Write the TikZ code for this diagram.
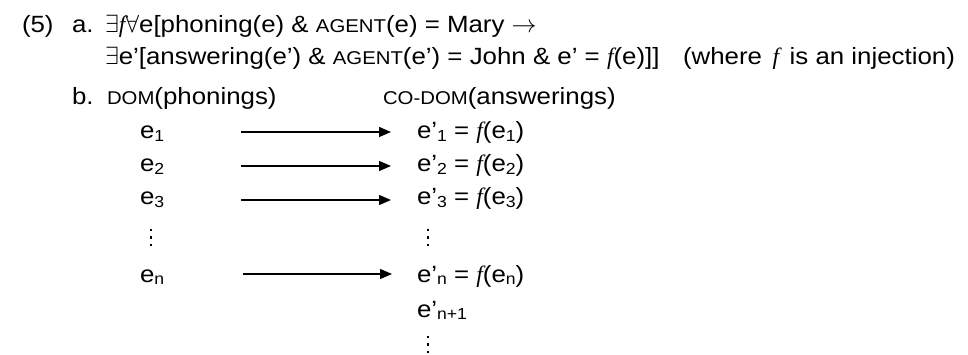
\documentclass[tikz,border=0pt]{standalone}
\usepackage{fontspec}
\setmainfont[FakeStretch=1.1]{Liberation Sans}
\newfontfamily\ifont{Liberation Serif}
\usetikzlibrary{arrows.meta}
\newcommand\smc[1]{{\fontsize{18.5}{18.5}\selectfont #1}}
\newcommand\fn{{\ifont\itshape f}}
\newcommand\sbs[1]{\raisebox{-2.5pt}{\fontsize{16}{16}\selectfont #1}}
\begin{document}
\begin{tikzpicture}[x=1pt,y=-1pt,
  txt/.style={anchor=base west,inner sep=0pt,outer sep=0pt,font=\fontsize{23.5}{26}\selectfont},
  dotm/.style={fill=black,inner sep=0pt,minimum size=2.6pt,rectangle},
  arr/.style={line width=1.3pt,-{Triangle[length=12pt,width=10pt]}}]
\useasboundingbox (0,0) rectangle (968,355);
\node[txt] (num) at (22,33) {(5)};
\node[txt] (la) at (72,33) {a.};
\node[txt] (l1) at (105,33) {$\exists$\fn$\forall$e[phoning(e) \& \smc{AGENT}(e) = Mary $\rightarrow$};
\node[txt] (l2) at (105,65) {$\exists$e’[answering(e’) \& \smc{AGENT}(e’) = John \& e’ = \fn(e)]]};
\node[txt] (wh) at (683,65) {(where\hspace{0.45em}\fn\hspace{0.45em}is an injection)};
\node[txt] (lb) at (72,105) {b.};
\node[txt] (dom) at (107,105) {\smc{DOM}(phonings)};
\node[txt] (cod) at (383,105) {\smc{CO-DOM}(answerings)};
\node[txt] (e1) at (140,139) {e\sbs{1}};
\node[txt] (e2) at (140,172) {e\sbs{2}};
\node[txt] (e3) at (140,205) {e\sbs{3}};
\node[txt] (en) at (140,282) {e\sbs{n}};
\node[txt] (f1) at (417,139) {e’\sbs{1} = \fn(e\sbs{1})};
\node[txt] (f2) at (417,172) {e’\sbs{2} = \fn(e\sbs{2})};
\node[txt] (f3) at (417,205) {e’\sbs{3} = \fn(e\sbs{3})};
\node[txt] (fn) at (417,282) {e’\sbs{n} = \fn(e\sbs{n})};
\node[txt] (fm) at (417,317) {e’\sbs{n+1}};
% vertical ellipses
\foreach \y [count=\i] in {230,237.5,245} {
  \node[dotm] (va\i) at (151,\y) {};
  \node[dotm] (vb\i) at (428,\y) {};
  \node[dotm] (vc\i) at (428,\y+107) {};
}
\coordinate (s1) at (241,132); \coordinate (t1) at (391,132);
\coordinate (s2) at (241,166); \coordinate (t2) at (391,166);
\coordinate (s3) at (241,200); \coordinate (t3) at (391,200);
\coordinate (sn) at (243,274); \coordinate (tn) at (392,274);
\draw[arr] (s1) -- (t1);
\draw[arr] (s2) -- (t2);
\draw[arr] (s3) -- (t3);
\draw[arr] (sn) -- (tn);
\end{tikzpicture}
\end{document}
